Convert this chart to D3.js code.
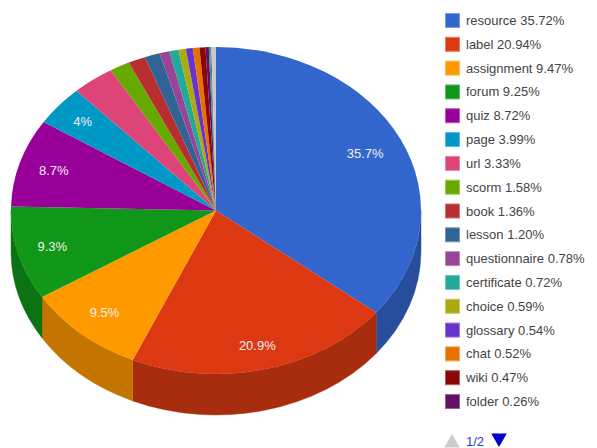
<!DOCTYPE html>
<html><head><meta charset="utf-8">
<script src="https://cdn.jsdelivr.net/npm/d3@7/dist/d3.min.js"></script>
<style>html,body{margin:0;background:#fff}svg{display:block}text{font-family:"Liberation Sans",Arial,sans-serif}</style>
</head><body>
<script>
const categories=["resource","label","assignment","forum","quiz","page","url","scorm","book","lesson","questionnaire","certificate","choice","glossary","chat","wiki","folder"];
const values=[35.72,20.94,9.47,9.25,8.72,3.99,3.33,1.58,1.36,1.20,0.78,0.72,0.59,0.54,0.52,0.47,0.26];
const colors=["#3366cc","#dc3912","#ff9900","#109618","#990099","#0099c6","#dd4477","#66aa00","#b82e2e","#316395","#994499","#22aa99","#aaaa11","#6633cc","#e67300","#8b0707","#651067"];
const extraValues=[0.1,0.1,0.36];
const extraColors=["#329262","#5574a6","#c8c8c8"];
const W=597,H=448,rx=205,ry=163.5,cx=216,cy=210.5,depth=41;
const svg=d3.select("body").append("svg").attr("width",W).attr("height",H);
const all=values.concat(extraValues), allColors=colors.concat(extraColors);
const arcs=d3.pie().sort(null).value(d=>d)(all);
const arc=d3.arc().innerRadius(0).outerRadius(rx);
const k=ry/rx;
const px=a=>cx+rx*Math.sin(a), py=a=>cy-ry*Math.cos(a);
// extruded wall: the part of each slice that faces the viewer
const wall=svg.append("g");
arcs.forEach((d,i)=>{
  const a0=Math.max(d.startAngle,Math.PI/2),a1=Math.min(d.endAngle,Math.PI*1.5);
  if(a1<=a0)return;
  const dark=d3.color(allColors[i]).darker(0.75);
  const p=`M${px(a0)},${py(a0)}A${rx},${ry} 0 0 1 ${px(a1)},${py(a1)}L${px(a1)},${py(a1)+depth}A${rx},${ry} 0 0 0 ${px(a0)},${py(a0)+depth}Z`;
  wall.append("path").attr("d",p).attr("fill",dark).attr("stroke",dark).attr("stroke-width",0.4);
});
const face=svg.append("g").attr("transform",`translate(${cx},${cy}) scale(1,${k})`);
face.selectAll("path").data(arcs).join("path").attr("d",arc).attr("fill",(d,i)=>allColors[i]);
// slice labels, each at its own fraction of the radius
const labelled=arcs.filter(d=>d.value>=3.5);
const radial=[0.808,0.85,0.828,0.828,0.828,0.848];
svg.append("g").selectAll("text").data(labelled).join("text")
  .attr("x",(d,i)=>cx+rx*radial[i]*Math.sin((d.startAngle+d.endAngle)/2))
  .attr("y",(d,i)=>cy-ry*radial[i]*Math.cos((d.startAngle+d.endAngle)/2)+4.5)
  .attr("text-anchor","middle").attr("font-size",13).attr("fill","#f0f0f0")
  .text(d=>d3.format(".1~f")(d.value)+"%");
// legend
const ly=d3.scalePoint().domain(categories).range([20,401]);
const lg=svg.append("g").selectAll("g").data(categories).join("g").attr("transform",d=>`translate(445,${ly(d)})`);
lg.append("rect").attr("x",0.5).attr("y",-6.5).attr("width",14).attr("height",14)
  .attr("fill",(d,i)=>colors[i])
  .attr("stroke",(d,i)=>d3.interpolateRgb(colors[i],"#fff")(0.35));
lg.append("text").attr("x",21).attr("y",5).attr("font-size",13).attr("fill","#444")
  .text((d,i)=>`${d} ${values[i].toFixed(2)}%`);
// pager
const tri=d3.symbol().type(d3.symbolTriangle).size(105);
svg.append("path").attr("d",tri).attr("transform","translate(452,443)").attr("fill","#ccc");
svg.append("text").attr("x",466).attr("y",446).attr("font-size",13).attr("fill","#2a3ecc").text("1/2");
svg.append("path").attr("d",tri).attr("transform","translate(499,438) rotate(180)").attr("fill","#0000cc");
</script>
</body></html>
